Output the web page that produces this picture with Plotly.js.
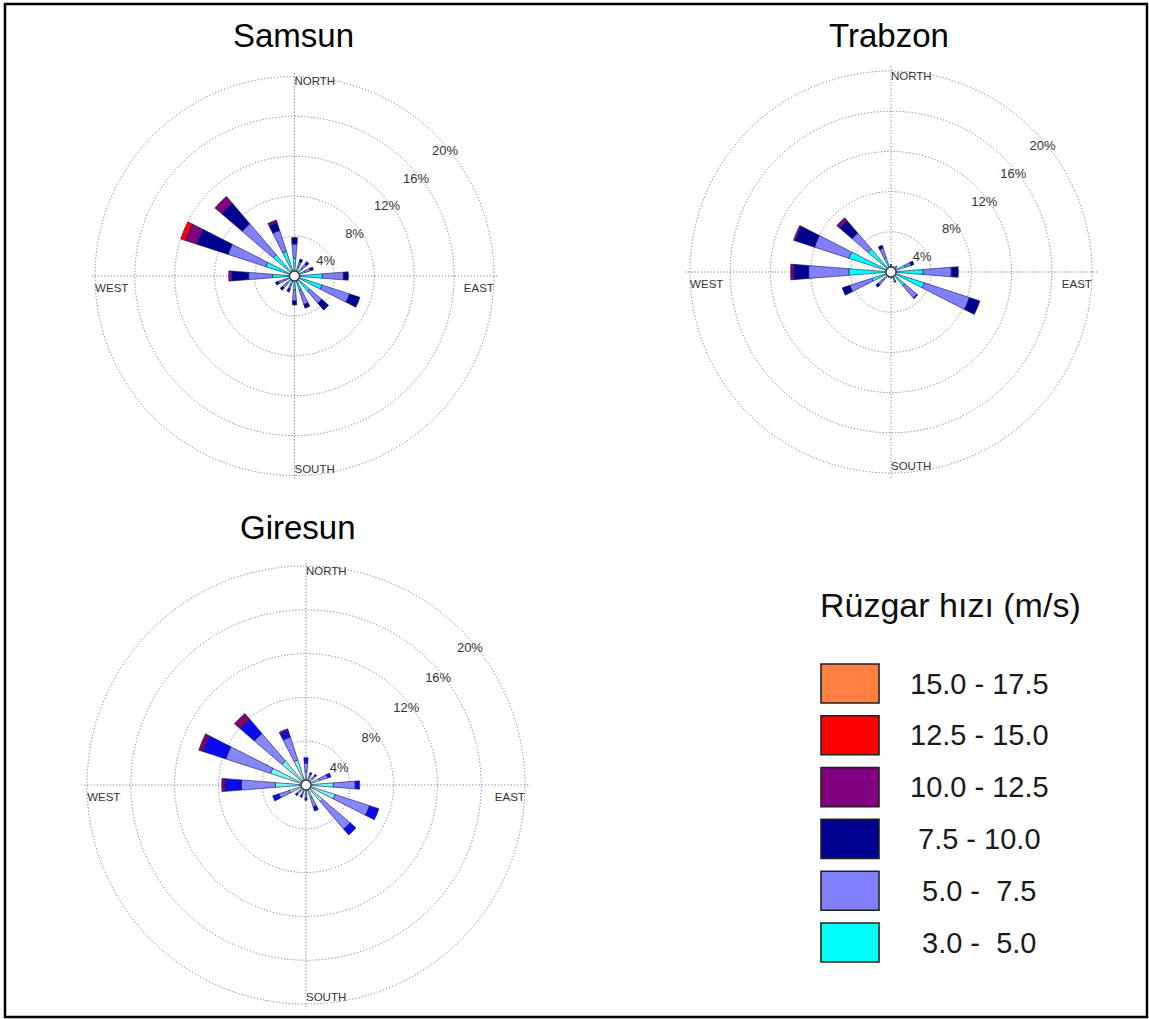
<!DOCTYPE html>
<html>
<head>
<meta charset="utf-8">
<script src="https://cdn.plot.ly/plotly-3.0.1.min.js"></script>
<style>html,body{margin:0;padding:0;background:#fff;}#chart{width:1149px;height:1019px;}</style>
</head>
<body>
<div id="chart"></div>
<script>
// ---- data ----
const directions = ['N','NNE','NE','ENE','E','ESE','SE','SSE','S','SSW','SW','WSW','W','WNW','NW','NNW'];
const directionDegrees = [0,22.5,45,67.5,90,112.5,135,157.5,180,202.5,225,247.5,270,292.5,315,337.5];

const speedLabels = ['3.0 -  5.0','5.0 -  7.5','7.5 - 10.0','10.0 - 12.5','12.5 - 15.0','15.0 - 17.5'];
const speedColors = ['#00ffff','#8080ff','#000090','#800080','#ff0000','#ff8040'];
const giresunColors = ['#7ef3f3','#8686ff','#0a0aee','#800070','#ff0000','#ff8040'];

// Samsun (% frequency per direction)
const samsun_3_5     = [1.8,1.0,1.0,1.1,2.8,2.9,2.0,1.5,1.4,0.9,1.0,1.0,2.2,3.0,2.8,2.6];
const samsun_5_75    = [1.4,0.5,0.6,0.6,2.1,2.9,1.6,1.5,1.1,0.5,0.6,0.7,2.4,4.0,4.1,2.2];
const samsun_75_10   = [0.65,0.3,0.3,0.3,0.5,1.1,0.9,0.4,0.4,0.3,0.3,0.3,1.7,3.3,2.7,0.8];
const samsun_10_125  = [0,0,0,0,0,0,0,0,0,0,0,0,0.3,1.2,0.9,0.3];
const samsun_125_15  = [0,0,0,0,0,0,0,0,0,0,0,0,0,0.5,0,0];
const samsun_15_175  = [0,0,0,0,0,0,0,0,0,0,0,0,0,0,0,0];

// Trabzon
const trabzon_3_5    = [0.5,0.4,0.5,1.5,3.2,3.5,1.8,0.7,0.4,0.4,1.0,2.0,4.2,4.4,3.0,1.5];
const trabzon_5_75   = [0.2,0.2,0.2,0.6,2.8,4.7,1.6,0.3,0.2,0.2,0.7,2.3,4.0,3.6,2.1,1.0];
const trabzon_75_10  = [0.05,0,0.1,0.3,0.7,1.1,0.1,0.1,0,0,0.3,0.8,1.5,2.0,1.6,0.3];
const trabzon_10_125 = [0,0,0,0,0,0,0,0,0,0,0,0,0.3,0.2,0.4,0];
const trabzon_125_15 = [0,0,0,0,0,0,0,0,0,0,0,0,0,0,0,0];
const trabzon_15_175 = [0,0,0,0,0,0,0,0,0,0,0,0,0,0,0,0];

// Giresun
const giresun_3_5    = [1.2,0.7,0.8,1.3,2.5,2.8,2.0,1.2,0.8,0.7,0.7,1.6,2.8,3.4,2.9,2.4];
const giresun_5_75   = [0.8,0.35,0.35,0.8,2.0,3.3,3.3,0.9,0.4,0.3,0.4,1.0,3.1,4.3,3.3,2.2];
const giresun_75_10  = [0.5,0.15,0.15,0.3,0.4,0.9,0.7,0.4,0.2,0.2,0.2,0.6,1.5,2.2,1.7,0.6];
const giresun_10_125 = [0,0,0,0,0,0,0,0,0,0,0,0,0.3,0.4,0.7,0.2];
const giresun_125_15 = [0,0,0,0,0,0,0,0,0,0,0,0,0,0,0,0];
const giresun_15_175 = [0,0,0,0,0,0,0,0,0,0,0,0,0,0,0,0];

const stationNames = ['Samsun','Trabzon','Giresun'];
const radialTicks = [4,8,12,16,20];
const radialTickText = ['4%','8%','12%','16%','20%'];
const radialMax = 20;
const compassLabels = ['NORTH','EAST','SOUTH','WEST'];
const compassDegrees = [0,90,180,270];
const compassLabelDegrees = [0,92,180,268];
const legendTitle = 'Rüzgar hızı (m/s)';

// ---- layout helpers ----
const W = 1149, H = 1019;
const FONT = 'Arial, "Liberation Sans", sans-serif';
const px = x => x / W;
const py = y => 1 - y / H;
const RANGE_MAX = 20.5;
const TICK_LABEL_BEARING = 46.5;   // direction (compass deg) along which ring labels sit
const TICK_LABEL_INSET = 1.0;      // labels sit just inside their ring
const GRID_COLOR = '#7a7a92';
const GRID_DASH = '1.2px,2px';

const stationSeries = [
  [samsun_3_5, samsun_5_75, samsun_75_10, samsun_10_125, samsun_125_15, samsun_15_175],
  [trabzon_3_5, trabzon_5_75, trabzon_75_10, trabzon_10_125, trabzon_125_15, trabzon_15_175],
  [giresun_3_5, giresun_5_75, giresun_75_10, giresun_10_125, giresun_125_15, giresun_15_175]
];
const stationPalettes = [speedColors, speedColors, giresunColors];
// centre (px) and radius of the 20% ring (px) of each rose
const roseGeom = [
  {cx: 294.5, cy: 276, r: 199.5},
  {cx: 891, cy: 272, r: 201},
  {cx: 306, cy: 785, r: 219}
];
const titlePos = [{x: 293, y: 35}, {x: 889, y: 35}, {x: 298, y: 527}];

const traces = [];
const layout = {
  width: W, height: H,
  margin: {l: 0, r: 0, t: 0, b: 0},
  paper_bgcolor: '#ffffff',
  showlegend: false,
  font: {family: FONT},
  annotations: [],
  shapes: []
};

stationNames.forEach((name, s) => {
  const pid = s === 0 ? 'polar' : 'polar' + (s + 1);
  const g = roseGeom[s];
  const R = g.r * RANGE_MAX / radialMax;
  layout[pid] = {
    domain: {x: [px(g.cx - R), px(g.cx + R)], y: [py(g.cy + R), py(g.cy - R)]},
    bgcolor: 'rgba(0,0,0,0)',
    barmode: 'stack',
    radialaxis: {
      range: [0, RANGE_MAX], tickmode: 'array', tickvals: radialTicks,
      showticklabels: false, showline: false, ticks: '',
      gridcolor: GRID_COLOR, griddash: GRID_DASH, gridwidth: 1
    },
    angularaxis: {
      rotation: 90, direction: 'clockwise', tickmode: 'array', tickvals: compassDegrees,
      showticklabels: false, ticks: '', showline: false,
      gridcolor: GRID_COLOR, griddash: GRID_DASH, gridwidth: 1
    }
  };
  stationSeries[s].forEach((vals, k) => {
    traces.push({
      type: 'barpolar', subplot: pid, name: speedLabels[k],
      r: vals, theta: directionDegrees, width: 9,
      marker: {color: stationPalettes[s][k], line: {color: '#1a1a4a', width: 0.6}},
      hovertemplate: name + ' %{customdata}: %{r}%<extra>' + speedLabels[k] + ' m/s</extra>',
      customdata: directions
    });
  });
  // ring labels (4% ... 20%)
  traces.push({
    type: 'scatterpolar', subplot: pid, mode: 'text', cliponaxis: false, hoverinfo: 'skip',
    r: radialTicks.map(v => v - TICK_LABEL_INSET), theta: radialTicks.map(() => TICK_LABEL_BEARING),
    text: radialTickText, textposition: 'bottom right',
    textfont: {size: 13, color: '#333', family: FONT}
  });
  // compass labels just inside the 20% ring
  traces.push({
    type: 'scatterpolar', subplot: pid, mode: 'text', cliponaxis: false, hoverinfo: 'skip',
    r: compassLabels.map(() => radialMax), theta: compassLabelDegrees, text: compassLabels,
    textposition: ['bottom right', 'bottom left', 'top right', 'bottom right'],
    textfont: {size: 11.5, color: '#333', family: FONT}
  });
  // white centre circle
  traces.push({
    type: 'scatterpolar', subplot: pid, mode: 'markers', hoverinfo: 'skip', cliponaxis: false,
    r: [0], theta: [0],
    marker: {size: 10, color: '#ffffff', line: {color: '#333', width: 1.3}}
  });
  layout.annotations.push({
    xref: 'paper', yref: 'paper', x: px(titlePos[s].x), y: py(titlePos[s].y),
    xanchor: 'center', yanchor: 'middle', showarrow: false, text: name,
    font: {size: 33, color: '#000', family: FONT}
  });
});

// legend (drawn from the speed-class arrays)
layout.annotations.push({
  xref: 'paper', yref: 'paper', x: px(818), y: py(605), xanchor: 'left', yanchor: 'middle',
  showarrow: false, text: legendTitle, font: {size: 34, color: '#111', family: FONT}
});
const legendOrder = speedLabels.map((_, i) => i).reverse();
legendOrder.forEach((k, i) => {
  const top = 664 + i * 51.8;
  layout.shapes.push({
    type: 'rect', xref: 'paper', yref: 'paper',
    x0: px(821), x1: px(879), y0: py(top + 39), y1: py(top),
    fillcolor: speedColors[k], line: {color: '#222', width: 1.6}
  });
  layout.annotations.push({
    xref: 'paper', yref: 'paper', x: px(979), y: py(top + 19.5), xanchor: 'center', yanchor: 'middle',
    showarrow: false, text: speedLabels[k], font: {size: 29, color: '#1a1a1a', family: FONT}
  });
});

// outer frame
layout.shapes.push({
  type: 'rect', xref: 'paper', yref: 'paper', x0: px(5), x1: px(1147), y0: py(1017), y1: py(4),
  line: {color: '#000', width: 2.5}, fillcolor: 'rgba(0,0,0,0)'
});

Plotly.newPlot('chart', traces, layout, {displayModeBar: false});
</script>
</body>
</html>
